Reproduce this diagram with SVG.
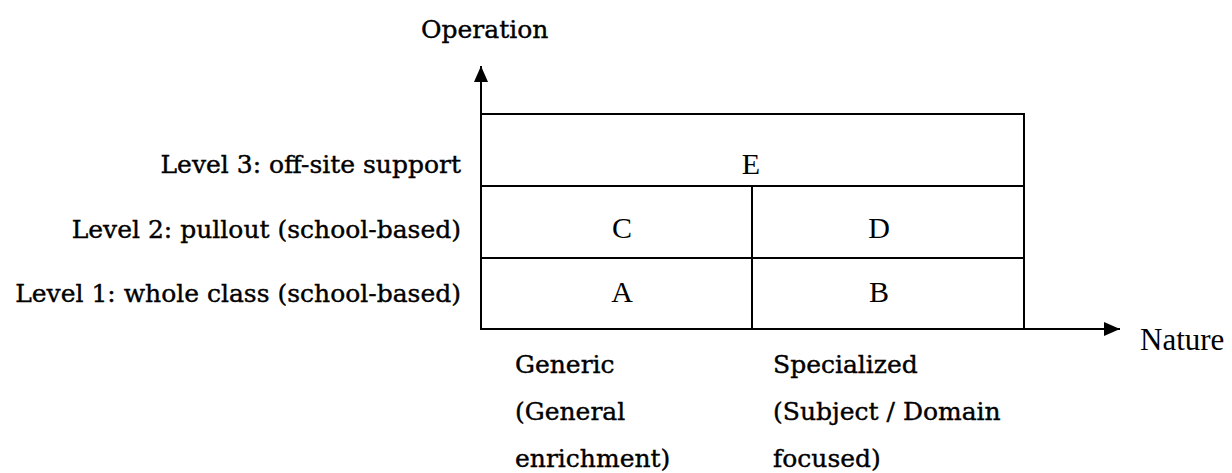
<svg xmlns="http://www.w3.org/2000/svg" width="1232" height="473" viewBox="0 0 1232 473">
  <style>
    .lbl { font-family: "DejaVu Serif", "Liberation Serif", serif; font-size: 25px; fill: #000; stroke: #000; stroke-width: 0.4; }
    .cell { font-family: "Liberation Serif", serif; font-size: 30px; fill: #000; text-anchor: middle; }
    .ax { font-family: "Liberation Serif", serif; font-size: 31px; fill: #000; }
    .ln { stroke: #000; stroke-width: 2; fill: none; }
  </style>
  <defs>
    <marker id="arrow" viewBox="0 0 16 14" refX="16" refY="7" markerWidth="16" markerHeight="14" markerUnits="userSpaceOnUse" orient="auto">
      <path d="M0,0 L16,7 L0,14 Z" fill="#000"/>
    </marker>
  </defs>

  <!-- axes -->
  <g id="connectors">
    <line class="ln" x1="481" y1="330" x2="481" y2="66" marker-end="url(#arrow)"/>
    <line class="ln" x1="480" y1="329" x2="1120" y2="329" marker-end="url(#arrow)"/>
  </g>

  <text class="lbl" x="421" y="38">Operation</text>
  <text class="ax" x="1140" y="350">Nature</text>

  <!-- grid cells -->
  <g id="cell-E">
    <rect class="ln" x="481" y="114" width="543" height="72"/>
    <text class="cell" x="751" y="174">E</text>
  </g>
  <g id="cell-C">
    <rect class="ln" x="481" y="186" width="271" height="72"/>
    <text class="cell" x="622" y="238">C</text>
  </g>
  <g id="cell-D">
    <rect class="ln" x="752" y="186" width="272" height="72"/>
    <text class="cell" x="879" y="238">D</text>
  </g>
  <g id="cell-A">
    <rect class="ln" x="481" y="258" width="271" height="71"/>
    <text class="cell" x="622" y="302">A</text>
  </g>
  <g id="cell-B">
    <rect class="ln" x="752" y="258" width="272" height="71"/>
    <text class="cell" x="879" y="302">B</text>
  </g>

  <!-- row labels -->
  <g id="row-labels" text-anchor="end">
    <text class="lbl" x="461" y="173">Level 3: off-site support</text>
    <text class="lbl" x="461" y="238">Level 2: pullout (school-based)</text>
    <text class="lbl" x="461" y="302">Level 1: whole class (school-based)</text>
  </g>

  <!-- column labels -->
  <g id="col-generic">
    <text class="lbl" x="515" y="373">Generic</text>
    <text class="lbl" x="515" y="420">(General</text>
    <text class="lbl" x="515" y="467">enrichment)</text>
  </g>
  <g id="col-specialized">
    <text class="lbl" x="773" y="373">Specialized</text>
    <text class="lbl" x="773" y="420">(Subject / Domain</text>
    <text class="lbl" x="773" y="467">focused)</text>
  </g>
</svg>
